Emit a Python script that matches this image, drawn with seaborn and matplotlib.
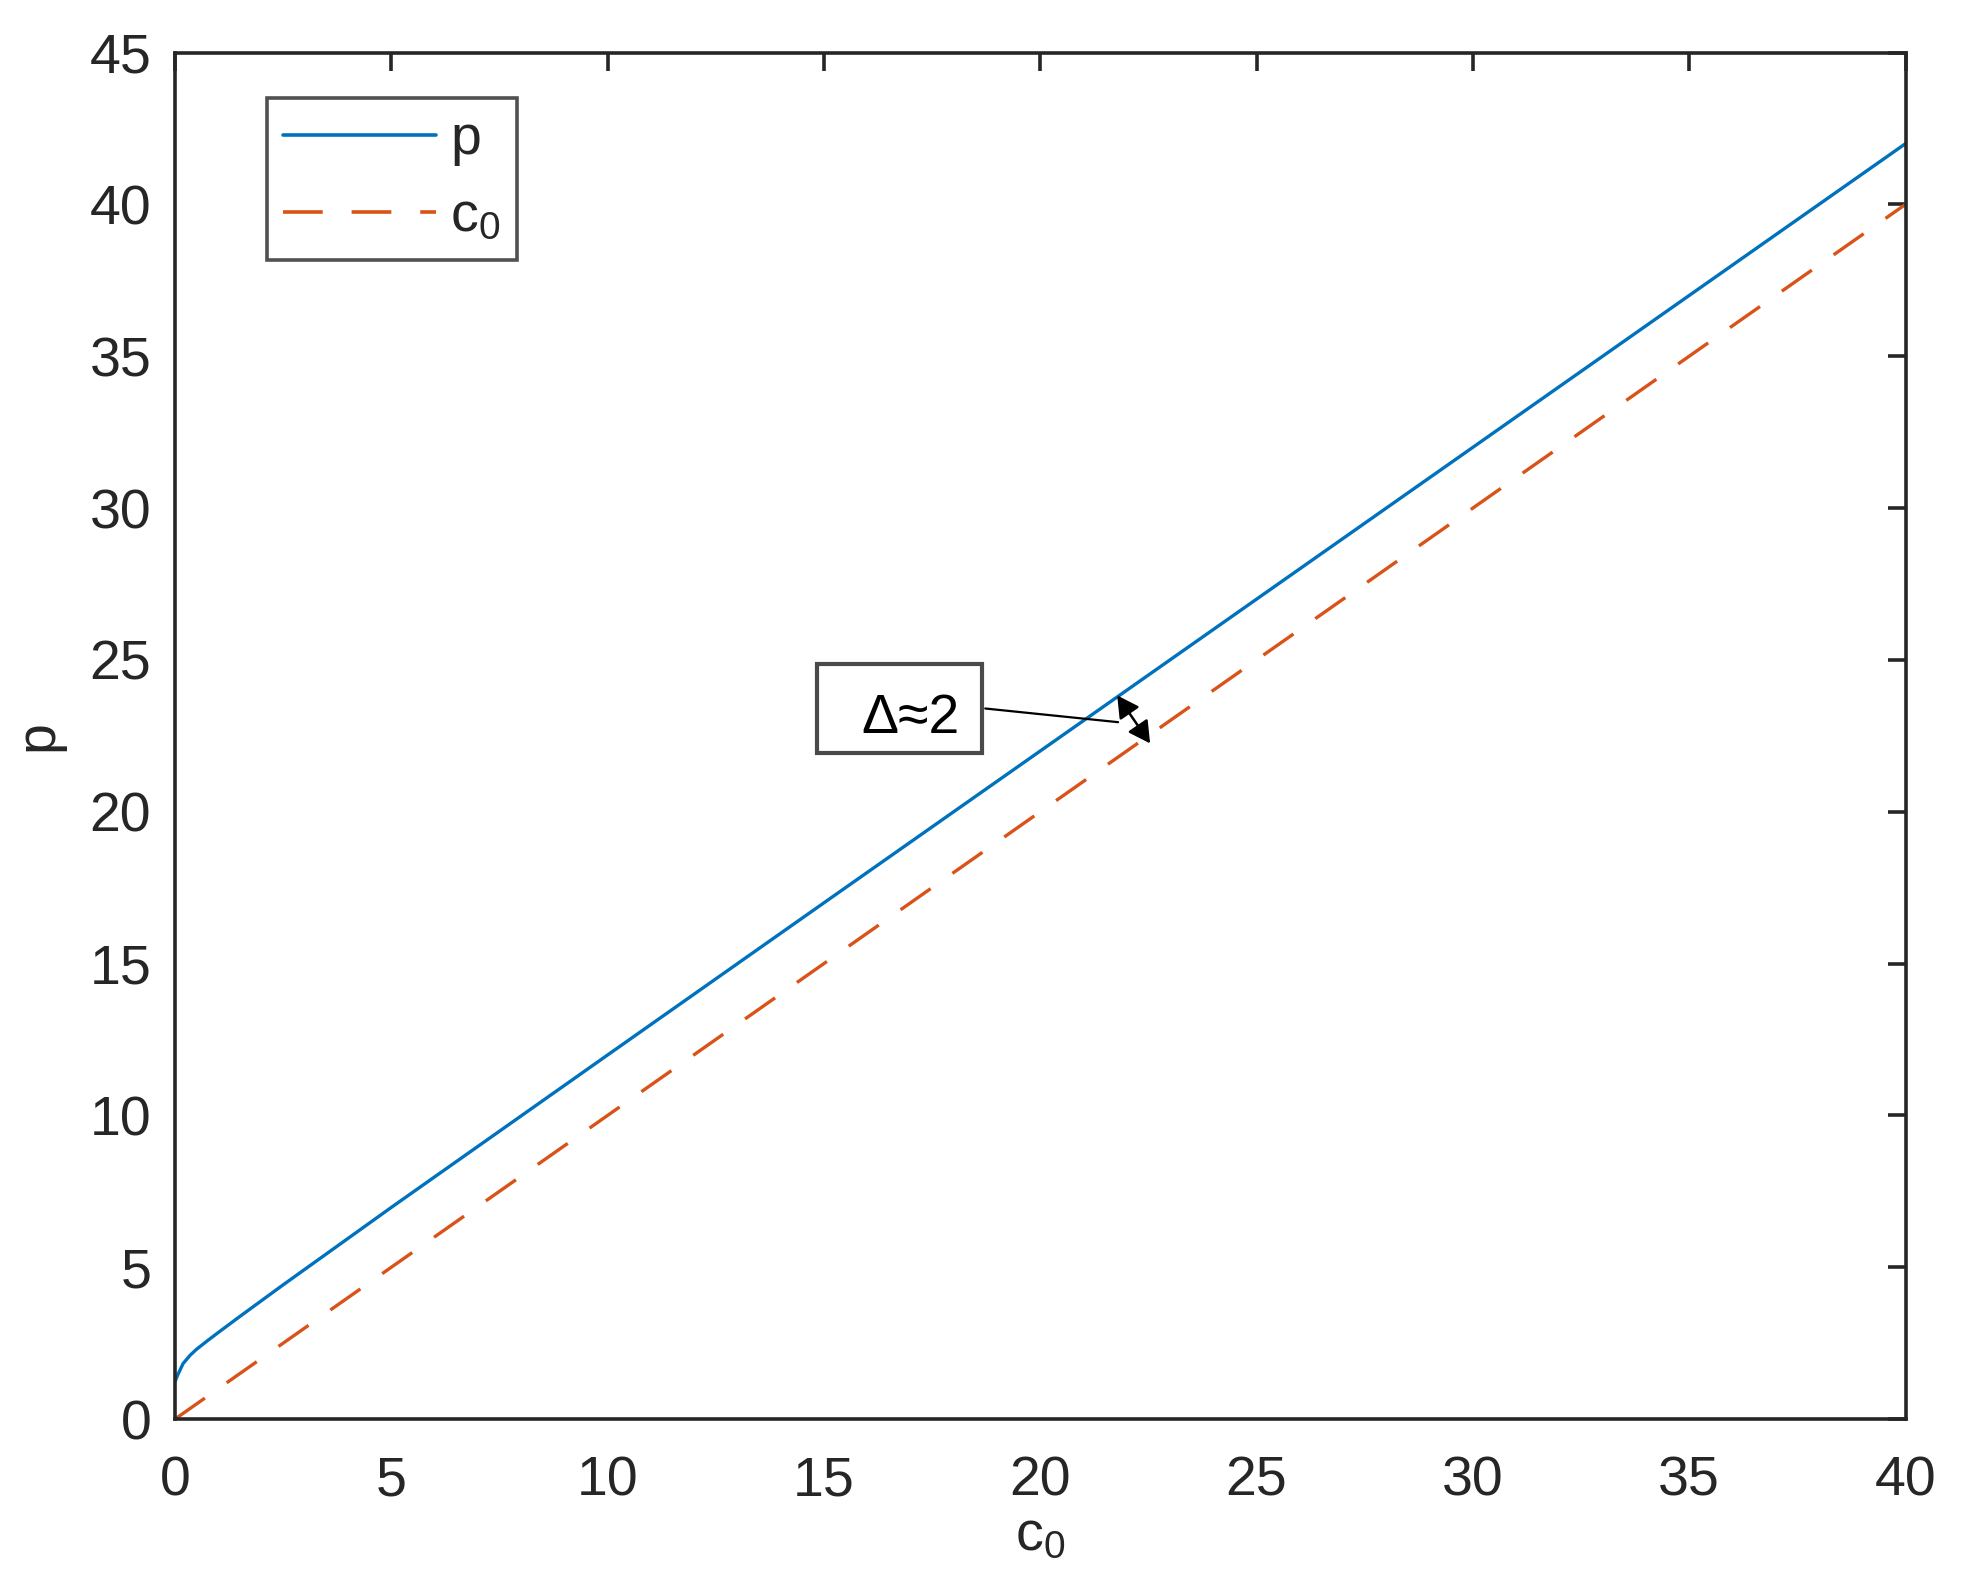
import matplotlib
matplotlib.use('Agg')
import matplotlib.pyplot as plt
from matplotlib.patches import Rectangle
import seaborn as sns
import pandas as pd

# values
c0_vals = [0, 0.08, 0.19, 0.35, 0.5, 0.75, 1, 1.5, 2, 2.5, 3, 4, 5, 7.5,
           10, 15, 20, 25, 30, 35, 40]
p_vals = [1.23, 1.50, 1.83, 2.10, 2.30, 2.58, 2.85, 3.38, 3.90, 4.42, 4.93,
          5.95, 6.97, 9.48, 11.99, 17.0, 22.0, 27.0, 32.0, 37.0, 42.0]
ref_c0 = [0, 40]
ref_p = [0, 40]

blue = '#0072BD'
orange = '#D95319'
txt = '#262626'

sns.set_style('white')
plt.rcParams['font.family'] = ['Liberation Sans', 'DejaVu Sans']
plt.rcParams['mathtext.default'] = 'regular'

df_p = pd.DataFrame({'c0': c0_vals, 'val': p_vals})
df_c = pd.DataFrame({'c0': ref_c0, 'val': ref_p})

fig = plt.figure(figsize=(19.87, 15.91), dpi=100)
ax = fig.add_axes([0.088, 0.108, 0.871, 0.859])

sns.lineplot(data=df_p, x='c0', y='val', ax=ax, color=blue, lw=2.4,
             label='p', sort=False)
sns.lineplot(data=df_c, x='c0', y='val', ax=ax, color=orange, lw=2.4,
             label='c$_0$', sort=False)
ax.lines[1].set_dashes([11, 8])

ax.set_xlim(0, 40)
ax.set_ylim(0, 45)
ax.set_xticks(range(0, 41, 5))
ax.set_yticks(range(0, 46, 5))
ax.set_xlabel('c$_0$', fontsize=40, color=txt, labelpad=2)
ax.set_ylabel('p', fontsize=40, color=txt, labelpad=18)

for s in ax.spines.values():
    s.set_linewidth(2.6)
    s.set_color(txt)
ax.tick_params(direction='in', length=13, width=2.6, colors=txt,
               labelsize=40, top=True, right=True)
ax.tick_params(axis='x', pad=26)
ax.tick_params(axis='y', pad=17)

leg = ax.legend(loc='upper left', bbox_to_anchor=(0.053, 0.967), fontsize=40,
                frameon=True, fancybox=False, handlelength=2.75,
                borderaxespad=0, borderpad=0.3, labelspacing=0.45,
                handletextpad=0.25)
leg.get_frame().set_edgecolor(txt)
leg.get_frame().set_linewidth(2.6)
for ln in leg.get_lines():
    ln.set_linewidth(2.6)

# annotation box
ax.add_patch(Rectangle((14.84, 21.93), 3.81, 2.95, fill=False,
                       edgecolor='#4a4a4a', lw=3, zorder=5))
ax.text(17.0, 23.07, 'Δ≈2', fontsize=40, color='k', ha='center', va='center')
ax.plot([18.73, 21.8], [23.4, 22.95], color='k', lw=1.6)
ax.annotate('', xy=(21.78, 23.83), xytext=(22.54, 22.25),
            arrowprops=dict(arrowstyle='<|-|>,head_length=0.55,head_width=0.3',
                            color='k', lw=1.8, mutation_scale=24,
                            shrinkA=0, shrinkB=0))

fig.savefig('out.png', dpi=100)
